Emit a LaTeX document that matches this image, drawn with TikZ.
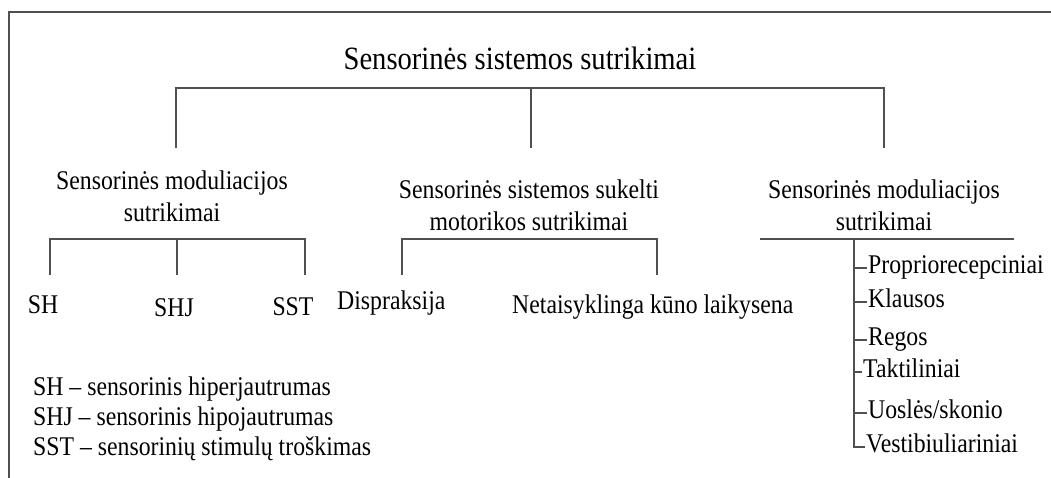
\documentclass[tikz,border=0pt]{standalone}
\usepackage{fontspec}
\setmainfont{Liberation Serif}[FakeStretch=0.88]
\usepackage{tikz}
\usetikzlibrary{calc}

\definecolor{lineGray}{RGB}{80,80,80}

\begin{document}
\begin{tikzpicture}[x=1pt, y=-1pt,
		bar/.style={draw=lineGray, line width=1.6pt},
		txt/.style={font=\fontsize{27}{32}\selectfont, inner sep=0pt},
		head/.style={txt, align=center, anchor=base},
		item/.style={txt, anchor=base west, inner xsep=1pt}]
			\def\yBarTop{88};
			\def\yDrop{148};
			\def\yBarMid{239};
			\def\yStub{275};

			\newcommand{\drawBracket}[3]
			{
				\draw [bar] (#1,\yStub) |- (#3,\yBarMid) -- (#3,\yStub);
				\draw [bar] (#2,\yBarMid) -- (#2,\yStub)
			}

			\useasboundingbox (0,0) rectangle (1051,478);
			\draw [bar] (9,478) |- (1051,12);

			\node [txt, anchor=base, font=\fontsize{32.5}{38}\selectfont] (title) at (520,70) {Sensorinės sistemos sutrikimai};

			\begin{scope}
				\coordinate (topL) at (176,\yDrop);
				\coordinate (topM) at (531,\yDrop);
				\coordinate (topR) at (884,\yDrop);
				\draw [bar] (topL) |- (topR |- 0,\yBarTop) -- (topR);
				\draw [bar] (topM |- 0,\yBarTop) -- (topM);
			\end{scope}

			\node [head] (modLeft) at (172,222) {Sensorinės moduliacijos\\sutrikimai};
			\node [head] (motor) at (529,230) {Sensorinės sistemos sukelti\\motorikos sutrikimai};
			\node [head] (modRight) at (884,230) {Sensorinės moduliacijos\\sutrikimai};

			\drawBracket{50}{177}{305};
			\drawBracket{402}{402}{657};

			\node [txt, anchor=base] (sh) at (43,313) {SH};
			\node [txt, anchor=base] (shj) at (174,316) {SHJ};
			\node [txt, anchor=base] (sst) at (293,315) {SST};
			\node [txt, anchor=base west] (dysp) at (337,309) {Dispraksija};
			\node [txt, anchor=base west] (posture) at (512,313) {Netaisyklinga kūno laikysena};

			\node [txt, anchor=base west, align=left, font=\fontsize{27}{30}\selectfont] (legend) at (33,455) {SH -- sensorinis hiperjautrumas\\SHJ -- sensorinis hipojautrumas\\SST -- sensorinių stimulų troškimas};

			\draw [bar] (760,\yBarMid) -- (1014,\yBarMid);
			\coordinate (spine) at (854,\yBarMid);

			\node [item] (prop) at (867,273) {Propriorecepciniai};
			\node [item] (klaus) at (867,307) {Klausos};
			\node [item] (regos) at (867,345) {Regos};
			\node [item] (takt) at (862,377) {Taktiliniai};
			\node [item] (uosl) at (867,418) {Uoslės/skonio};
			\node [item] (vest) at (865,452) {Vestibiuliariniai};

			\draw [bar] (spine) |- ([yshift=3pt]vest.mid west);
			\foreach \n in {prop,klaus,regos,takt,uosl}
			{
				\coordinate (tick) at ([yshift=3pt]\n.mid west);
				\draw [bar] (spine |- tick) -- (tick);
			}
		\end{tikzpicture}
\end{document}
